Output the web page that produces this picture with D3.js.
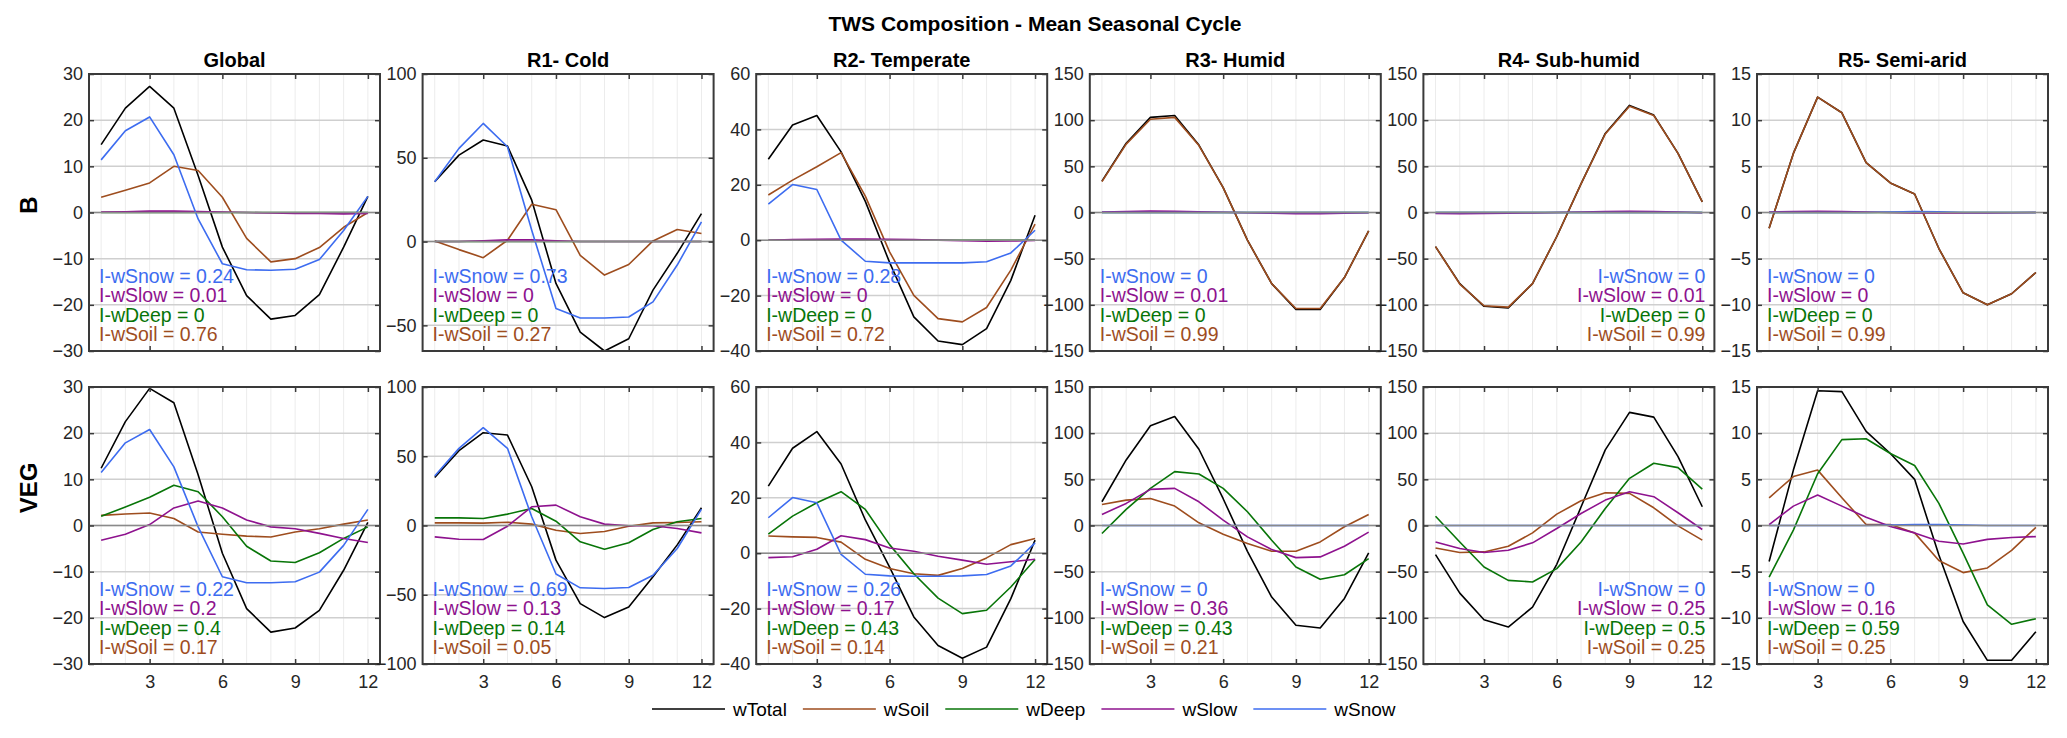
<!DOCTYPE html>
<html>
<head>
<meta charset="utf-8">
<script src="https://cdn.jsdelivr.net/npm/d3@7"></script>
<style>
  body { margin: 0; background: #fff; }
  text { font-family: "Liberation Sans", Arial, Helvetica, sans-serif; }
</style>
</head>
<body>
<div id="chart"></div>
<script>
// Dados
const regions = ["Global", "R1- Cold", "R2- Temperate", "R3- Humid", "R4- Sub-humid", "R5- Semi-arid"];
const rowLabels = ["B", "VEG"];
const months = [1, 2, 3, 4, 5, 6, 7, 8, 9, 10, 11, 12];
const monthTicks = [3, 6, 9, 12];
const seriesNames = ["wTotal", "wSoil", "wDeep", "wSlow", "wSnow"];

const bDomains = [[-30, 30], [-65.3, 100], [-40, 60], [-150, 150], [-150, 150], [-15, 15]];
const vegDomains = [[-30, 30], [-100, 100], [-40, 60], [-150, 150], [-150, 150], [-15, 15]];
const bTicks = [[-30, -20, -10, 0, 10, 20, 30], [-50, 0, 50, 100], [-40, -20, 0, 20, 40, 60],
  [-150, -100, -50, 0, 50, 100, 150], [-150, -100, -50, 0, 50, 100, 150], [-15, -10, -5, 0, 5, 10, 15]];
const vegTicks = [[-30, -20, -10, 0, 10, 20, 30], [-100, -50, 0, 50, 100], [-40, -20, 0, 20, 40, 60],
  [-150, -100, -50, 0, 50, 100, 150], [-150, -100, -50, 0, 50, 100, 150], [-15, -10, -5, 0, 5, 10, 15]];

// linha B
const bTotal = [
  [14.7, 22.6, 27.3, 22.6, 8, -7.5, -18, -23.1, -22.3, -17.8, -7.5, 3.5],
  [35.7, 51.6, 60.6, 57, 24.7, -25, -54, -65.3, -58, -29, -7, 16.7],
  [29.2, 41.6, 45, 31.9, 14, -8, -27.7, -36.4, -37.7, -31.9, -14.5, 9],
  [34, 75, 103, 105, 73, 27, -30, -77, -105, -105, -70.5, -20],
  [-37, -77, -101.6, -103.4, -77, -26, 31, 85.6, 116, 105.5, 64, 11.6],
  [-1.7, 6.4, 12.5, 10.8, 5.4, 3.2, 2, -3.9, -8.7, -10, -8.8, -6.5]
];
const bSoil = [
  [3.3, 4.8, 6.4, 10, 9.1, 3.3, -5.6, -10.7, -10, -7.6, -3.2, 0],
  [0.4, -4.8, -9.6, 0.8, 22.3, 19, -8.2, -20, -13.7, 0.4, 7.2, 4.8],
  [16.3, 21.7, 26.5, 31.6, 15.9, -4.2, -19.9, -28.3, -29.5, -24.3, -10.8, 5.8],
  [33.5, 74, 101, 103, 72.5, 27, -30, -77, -104, -104, -70.5, -20],
  [-37, -77.5, -101, -102.5, -77, -26, 31, 85, 115, 105, 64, 11.6],
  [-1.7, 6.4, 12.5, 10.8, 5.4, 3.2, 2, -3.9, -8.7, -10, -8.8, -6.5]
];
const bDeep = [
  [0, 0, 0, 0, 0, 0, 0, 0, 0, 0, 0, 0],
  [0, 0, 0, 0, 0, 0, 0, 0, 0, 0, 0, 0],
  [0, 0, 0, 0, 0, 0, 0, 0, 0, 0, 0, 0],
  [0, 0, 0, 0, 0, 0, 0, 0, 0, 0, 0, 0],
  [0, 0, 0, 0, 0, 0, 0, 0, 0, 0, 0, 0],
  [0, 0, 0, 0, 0, 0, 0, 0, 0, 0, 0, 0]
];
const bSlow = [
  [0.1, 0.15, 0.3, 0.3, 0.2, 0.1, 0, -0.1, -0.2, -0.2, -0.3, -0.2],
  [0, 0, 0.5, 1, 1, 0.5, 0, 0, 0, 0, 0, 0],
  [0, 0.2, 0.3, 0.4, 0.4, 0.3, 0.2, 0, -0.2, -0.4, -0.3, -0.1],
  [0.5, 1, 1.5, 1.2, 0.8, 0.3, -0.2, -0.8, -1.2, -1.2, -0.8, -0.3],
  [-1, -1.2, -1, -0.8, -0.5, 0, 0.6, 1, 1.3, 1.1, 0.6, -0.2],
  [0.05, 0.1, 0.12, 0.1, 0.05, 0, -0.05, -0.05, -0.05, -0.05, -0.03, 0]
];
const bSnow = [
  [11.4, 17.7, 20.7, 12.5, -1.4, -11.1, -12.4, -12.5, -12.3, -10.2, -3.9, 3.5],
  [35.7, 55.6, 70.5, 56.6, 6.8, -40, -45.6, -45.6, -45, -36, -14, 11.7],
  [13, 20.1, 18.3, 0, -7.6, -8.2, -8.2, -8.2, -8.2, -7.8, -4.6, 3.6],
  [0, 0, 0, 0, 0, 0, 0, 0, 0, 0, 0, 0],
  [0, 0, 0, 0, 0, 0, 0, 0, 0, 0, 0, 0],
  [0, 0, 0, 0, 0, 0.05, 0.1, 0.08, 0, 0, 0, 0]
];

// linha VEG
const vegTotal = [
  [12.4, 22.5, 29.7, 26.6, 11, -6, -18, -23.1, -22.2, -18.4, -9.7, 0.7],
  [34.7, 54, 67, 65.3, 28, -25, -56.4, -66.5, -58.8, -37, -14, 12.8],
  [24.2, 37.9, 43.9, 32.2, 12, -5, -23, -33.3, -37.9, -33.9, -16.4, 4.7],
  [25.7, 71, 108, 118, 82.6, 29, -28, -77.5, -108, -111, -79, -29.7],
  [-31.5, -73.2, -102, -110, -88.4, -42, 20, 81.9, 122.5, 117.4, 74.6, 20.3],
  [-3.9, 6, 14.6, 14.5, 10.2, 7.8, 5, -3.2, -10.4, -14.6, -14.6, -11.5]
];
const vegSoil = [
  [2.2, 2.5, 2.7, 1.5, -1.4, -1.9, -2.3, -2.5, -1.4, -0.7, 0.3, 1.2],
  [1.9, 1.9, 1.7, 2.4, 1, -3.4, -5.8, -4.3, -0.5, 1.9, 2.2, 2.7],
  [6.2, 5.9, 5.7, 4, -2.2, -5.5, -7.4, -8, -5.5, -1.7, 3.1, 5.3],
  [22.8, 27.5, 29.3, 21, 2.9, -9.4, -19.6, -27.9, -27.9, -17.8, -1.4, 12],
  [-24.3, -29.3, -28.6, -22.5, -8, 12.3, 26.8, 35.5, 34.8, 19.2, -0.4, -15.9],
  [3, 5.3, 6, 3, 0.1, 0.1, -0.8, -3.8, -5.1, -4.6, -2.7, -0.2]
];
const vegDeep = [
  [2, 4, 6.1, 8.7, 7.3, 1.9, -4.5, -7.7, -8, -5.9, -2.8, -0.3],
  [5.5, 5.5, 5, 8.2, 12.3, 3.1, -11.8, -17.1, -12.5, -2.9, 2.7, 5.1],
  [6.9, 13.4, 18.2, 22.2, 15.8, 3.1, -7.4, -16.2, -21.8, -20.6, -12.2, -2.3],
  [-8.7, 17.4, 40.2, 58.3, 55.8, 40.2, 14.9, -15.9, -44.9, -58.3, -53.3, -35.9],
  [10.1, -17.8, -44.9, -59.4, -61.2, -46.7, -17.8, 18.5, 51.1, 67.4, 62.7, 39.5],
  [-5.6, -0.5, 5.6, 9.3, 9.4, 7.8, 6.5, 2.4, -3, -8.6, -10.7, -10.1]
];
const vegSlow = [
  [-3.2, -1.9, 0.2, 3.8, 5.3, 3.8, 1.2, -0.3, -0.7, -1.7, -2.8, -3.7],
  [-8.2, -9.9, -10.1, -0.5, 13.5, 14.7, 6.3, 1, -0.2, -0.2, -2.2, -5.3],
  [-1.6, -1.3, 1.4, 6.3, 4.9, 1.9, 0.7, -1.1, -2.5, -4, -3.1, -2.2],
  [12, 23.9, 39.1, 40.2, 25.7, 5.8, -12.3, -26.1, -34.8, -34, -22.5, -7.2],
  [-17.8, -25, -29.3, -26.8, -18.8, -3.3, 13, 27.5, 36.6, 31.2, 13.8, -4.3],
  [0.1, 2.1, 3.3, 2.1, 0.9, -0.1, -0.8, -1.7, -2, -1.5, -1.3, -1.2]
];
const vegSnow = [
  [11.5, 17.9, 20.8, 12.7, -0.3, -11.1, -12.4, -12.4, -12.2, -10.1, -4.3, 3.5],
  [35.7, 55.7, 70.6, 55.7, 6.3, -35, -45, -45.5, -44.8, -35.9, -16.6, 11.8],
  [12.8, 20.1, 18.2, -0.4, -7.6, -8.2, -8.3, -8.3, -8.2, -7.7, -4.6, 3.7],
  [0, 0, 0, 0, 0, 0, 0, 0, 0, 0, 0, 0],
  [0, 0, 0, 0, 0, 0, 0, 0, 0, 0, 0, 0],
  [0, 0, 0, 0, 0, 0.05, 0.1, 0.1, 0.05, 0, 0, 0]
];

// índices I-w (importância)
const bISnow = [0.24, 0.73, 0.28, 0, 0, 0];
const bISlow = [0.01, 0, 0, 0.01, 0.01, 0];
const bIDeep = [0, 0, 0, 0, 0, 0];
const bISoil = [0.76, 0.27, 0.72, 0.99, 0.99, 0.99];
const vegISnow = [0.22, 0.69, 0.26, 0, 0, 0];
const vegISlow = [0.2, 0.13, 0.17, 0.36, 0.25, 0.16];
const vegIDeep = [0.4, 0.14, 0.43, 0.43, 0.5, 0.59];
const vegISoil = [0.17, 0.05, 0.14, 0.21, 0.25, 0.25];

// Configurações
const W = 2067, H = 738;
const panel = { left: 89, step: 333.6, width: 291, height: 277 };
const rowTop = [74, 387];
const axisColor = "#3a3a3a";
const colors = { wTotal: "#000000", wSoil: "#9e4d1e", wDeep: "#087508", wSlow: "#8e128e", wSnow: "#3d6cf0" };

const svg = d3.select("#chart")
    .append("svg")
    .attr("width", W)
    .attr("height", H);

svg.append("text")
    .attr("x", 1035).attr("y", 31)
    .attr("text-anchor", "middle")
    .attr("font-size", 21).attr("font-weight", "bold")
    .text("TWS Composition - Mean Seasonal Cycle");

const x = d3.scaleLinear().domain([0.5, 12.5]).range([0, panel.width]);

const rows = [
    { domains: bDomains, ticks: bTicks, series: [bTotal, bSoil, bDeep, bSlow, bSnow],
      imp: [["wSnow", bISnow], ["wSlow", bISlow], ["wDeep", bIDeep], ["wSoil", bISoil]] },
    { domains: vegDomains, ticks: vegTicks, series: [vegTotal, vegSoil, vegDeep, vegSlow, vegSnow],
      imp: [["wSnow", vegISnow], ["wSlow", vegISlow], ["wDeep", vegIDeep], ["wSoil", vegISoil]] }
];

const labelCenter = [205, 488];

rows.forEach((row, r) => {
    // rótulo da linha
    svg.append("text")
        .attr("transform", `translate(37,${labelCenter[r]}) rotate(-90)`)
        .attr("text-anchor", "middle")
        .attr("font-size", 24).attr("font-weight", "bold")
        .text(rowLabels[r]);

    regions.forEach((region, c) => {
        const g = svg.append("g")
            .attr("transform", `translate(${panel.left + c * panel.step},${rowTop[r]})`);
        const y = d3.scaleLinear().domain(row.domains[c]).range([panel.height, 0]);
        const ticks = row.ticks[c];

        // grade
        g.selectAll(".vgrid").data(months).enter().append("line")
            .attr("x1", d => x(d)).attr("x2", d => x(d))
            .attr("y1", 0).attr("y2", panel.height)
            .attr("stroke", "#ececec").attr("stroke-width", 1);
        g.selectAll(".hgrid").data(ticks).enter().append("line")
            .attr("x1", 0).attr("x2", panel.width)
            .attr("y1", d => y(d)).attr("y2", d => y(d))
            .attr("stroke", "#cfcfcf").attr("stroke-width", 1.5);

        // linhas
        const line = d3.line().x((d, i) => x(months[i])).y(d => y(d));
        row.series.forEach((s, k) => {
            g.append("path")
                .datum(s[c])
                .attr("fill", "none")
                .attr("stroke", colors[seriesNames[k]])
                .attr("stroke-width", 1.6)
                .attr("stroke-linejoin", "round")
                .attr("d", line);
        });

        // linha do zero
        g.append("line")
            .attr("x1", 0).attr("x2", panel.width)
            .attr("y1", y(0)).attr("y2", y(0))
            .attr("stroke", "#8a8a8a").attr("stroke-width", 1.6);

        // eixos
        const yAxis = g.append("g")
            .call(d3.axisLeft(y).tickValues(ticks).tickSizeInner(-5).tickSizeOuter(0).tickPadding(6));
        const yAxisR = g.append("g").attr("transform", `translate(${panel.width},0)`)
            .call(d3.axisRight(y).tickValues(ticks).tickSizeInner(-5).tickSizeOuter(0).tickFormat(""));
        const xAxisT = g.append("g")
            .call(d3.axisTop(x).tickValues(monthTicks).tickSizeInner(-5).tickSizeOuter(0).tickFormat(""));
        const xAxisB = g.append("g").attr("transform", `translate(0,${panel.height})`)
            .call(d3.axisBottom(x).tickValues(monthTicks).tickSizeInner(-5).tickSizeOuter(0).tickPadding(11)
                .tickFormat(r === 1 ? d3.format("d") : ""));
        [yAxis, yAxisR, xAxisT, xAxisB].forEach(a => {
            a.select(".domain").remove();
            a.selectAll("line").attr("stroke", axisColor).attr("stroke-width", 1.5);
            a.selectAll("text").attr("font-size", 18).attr("fill", "#262626")
                .attr("font-family", '"Liberation Sans", Arial, sans-serif');
        });

        g.append("rect")
            .attr("width", panel.width).attr("height", panel.height)
            .attr("fill", "none").attr("stroke", axisColor).attr("stroke-width", 2);

        // título
        if (r === 0) {
            g.append("text")
                .attr("x", panel.width / 2).attr("y", -7)
                .attr("text-anchor", "middle")
                .attr("font-size", 20).attr("font-weight", "bold")
                .text(region);
        }

        // textos I-w
        const rightAlign = c === 4;
        row.imp.forEach(([name, vals], k) => {
            g.append("text")
                .attr("x", rightAlign ? panel.width - 9 : 10)
                .attr("y", panel.height - 10 - (3 - k) * 19.5)
                .attr("text-anchor", rightAlign ? "end" : "start")
                .attr("font-size", 19.5)
                .attr("fill", colors[name])
                .text(`I-${name} = ${vals[c]}`);
        });
    });
});

// Legenda
const legend = svg.append("g").attr("transform", "translate(652,709)");
let lx = 0;
seriesNames.forEach(name => {
    legend.append("line")
        .attr("x1", lx).attr("x2", lx + 73)
        .attr("stroke", colors[name]).attr("stroke-width", 1.6);
    const t = legend.append("text")
        .attr("x", lx + 81).attr("y", 7)
        .attr("font-size", 19)
        .text(name);
    lx += 81 + t.node().getComputedTextLength() + 16;
});
</script>
</body>
</html>
